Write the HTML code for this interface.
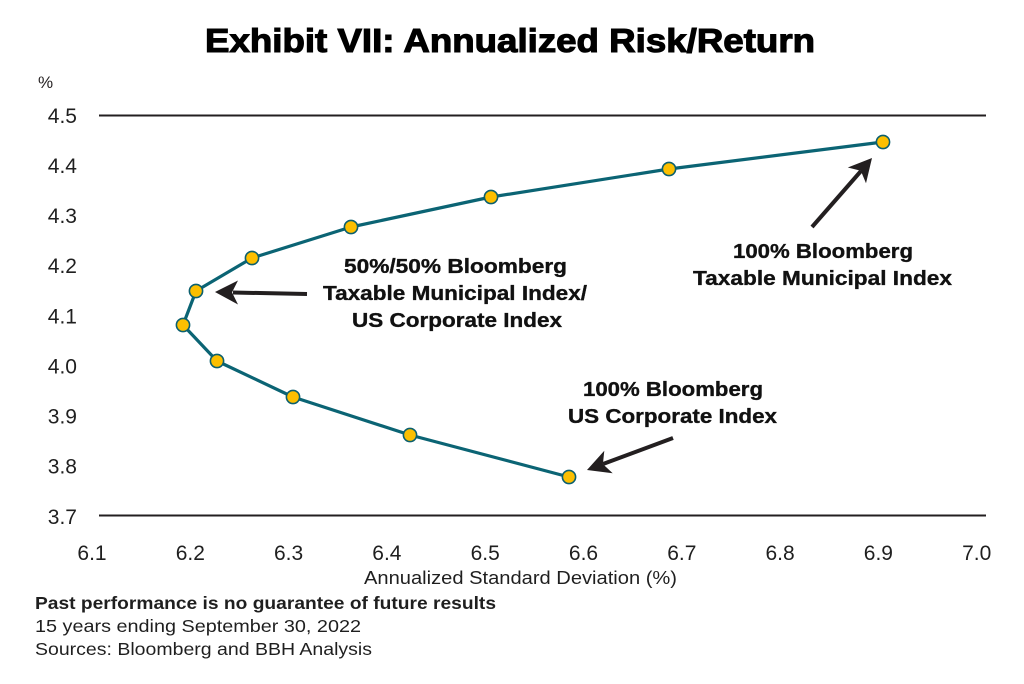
<!DOCTYPE html>
<html>
<head>
<meta charset="utf-8">
<style>
  html, body { margin: 0; padding: 0; background: #ffffff; }
  svg { display: block; }
</style>
</head>
<body>
<svg width="1024" height="684" viewBox="0 0 1024 684" xmlns="http://www.w3.org/2000/svg">
  <rect x="0" y="0" width="1024" height="684" fill="#ffffff"/>

  <!-- Title -->
  <text x="205" y="52" font-family="Liberation Sans, Arial, sans-serif" font-weight="bold" font-size="33.5" fill="#000" stroke="#000" stroke-width="1.1" textLength="610" lengthAdjust="spacingAndGlyphs">Exhibit VII: Annualized Risk/Return</text>

  <!-- % unit -->
  <text x="38" y="88" font-family="Liberation Sans, Arial, sans-serif" font-size="17" fill="#231f20">%</text>

  <!-- Axis lines -->
  <line x1="99" y1="115.5" x2="986" y2="115.5" stroke="#231f20" stroke-width="2"/>
  <line x1="99" y1="515.5" x2="986" y2="515.5" stroke="#231f20" stroke-width="2"/>

  <!-- Y labels -->
  <g font-family="Liberation Sans, Arial, sans-serif" font-size="21" fill="#1f1f1f" text-anchor="end">
    <text x="77" y="123">4.5</text>
    <text x="77" y="173">4.4</text>
    <text x="77" y="223">4.3</text>
    <text x="77" y="273">4.2</text>
    <text x="77" y="323.5">4.1</text>
    <text x="77" y="373.5">4.0</text>
    <text x="77" y="423.5">3.9</text>
    <text x="77" y="473.5">3.8</text>
    <text x="77" y="524">3.7</text>
  </g>

  <!-- X labels -->
  <g font-family="Liberation Sans, Arial, sans-serif" font-size="21" fill="#1f1f1f" text-anchor="middle">
    <text x="92" y="560">6.1</text>
    <text x="190.3" y="560">6.2</text>
    <text x="288.6" y="560">6.3</text>
    <text x="386.9" y="560">6.4</text>
    <text x="485.2" y="560">6.5</text>
    <text x="583.5" y="560">6.6</text>
    <text x="681.8" y="560">6.7</text>
    <text x="780.1" y="560">6.8</text>
    <text x="878.4" y="560">6.9</text>
    <text x="976.7" y="560">7.0</text>
  </g>

  <!-- X axis title -->
  <text x="364" y="584" font-family="Liberation Sans, Arial, sans-serif" font-size="18" fill="#1f1f1f" textLength="313" lengthAdjust="spacingAndGlyphs">Annualized Standard Deviation (%)</text>

  <!-- Data line -->
  <polyline fill="none" stroke="#0b6474" stroke-width="3.2" stroke-linejoin="round"
    points="883,142 669,169 491,197 351,227 252,258 196,291 183,325 217,361 293,397 410,435 569,477"/>

  <!-- Dots -->
  <g fill="#fcbf00" stroke="#0b5f6e" stroke-width="1.6">
    <circle cx="883" cy="142" r="6.6"/>
    <circle cx="669" cy="169" r="6.6"/>
    <circle cx="491" cy="197" r="6.6"/>
    <circle cx="351" cy="227" r="6.6"/>
    <circle cx="252" cy="258" r="6.6"/>
    <circle cx="196" cy="291" r="6.6"/>
    <circle cx="183" cy="325" r="6.6"/>
    <circle cx="217" cy="361" r="6.6"/>
    <circle cx="293" cy="397" r="6.6"/>
    <circle cx="410" cy="435" r="6.6"/>
    <circle cx="569" cy="477" r="6.6"/>
  </g>

  <!-- Arrows -->
  <g fill="#231f20" stroke="none">
    <line x1="307" y1="294" x2="233" y2="292.5" stroke="#231f20" stroke-width="4"/>
    <polygon points="215,292 238,280.5 232,292.4 238,304.5"/>
    <line x1="812" y1="227" x2="861" y2="171" stroke="#231f20" stroke-width="4"/>
    <polygon points="872,158 866,183.3 860.8,170.8 847.8,167.5"/>
    <line x1="673" y1="438" x2="603" y2="464" stroke="#231f20" stroke-width="4"/>
    <polygon points="587,470 612.7,473.2 602.9,464.1 604.3,450.8"/>
  </g>

  <!-- Annotations -->
  <g font-family="Liberation Sans, Arial, sans-serif" font-weight="bold" font-size="20.5" fill="#111" stroke="#111" stroke-width="0.35">
    <text x="344" y="273" textLength="223" lengthAdjust="spacingAndGlyphs">50%/50% Bloomberg</text>
    <text x="323" y="300" textLength="264" lengthAdjust="spacingAndGlyphs">Taxable Municipal Index/</text>
    <text x="352" y="327" textLength="210" lengthAdjust="spacingAndGlyphs">US Corporate Index</text>

    <text x="733" y="258" textLength="180" lengthAdjust="spacingAndGlyphs">100% Bloomberg</text>
    <text x="693" y="285" textLength="259" lengthAdjust="spacingAndGlyphs">Taxable Municipal Index</text>

    <text x="583" y="396" textLength="180" lengthAdjust="spacingAndGlyphs">100% Bloomberg</text>
    <text x="568" y="423" textLength="209" lengthAdjust="spacingAndGlyphs">US Corporate Index</text>
  </g>

  <!-- Footer -->
  <g font-family="Liberation Sans, Arial, sans-serif" font-size="17.5" fill="#1f1f1f">
    <text x="35" y="609" font-weight="bold" textLength="461" lengthAdjust="spacingAndGlyphs">Past performance is no guarantee of future results</text>
    <text x="35" y="632" textLength="326" lengthAdjust="spacingAndGlyphs">15 years ending September 30, 2022</text>
    <text x="35" y="655" textLength="337" lengthAdjust="spacingAndGlyphs">Sources: Bloomberg and BBH Analysis</text>
  </g>
</svg>
</body>
</html>
